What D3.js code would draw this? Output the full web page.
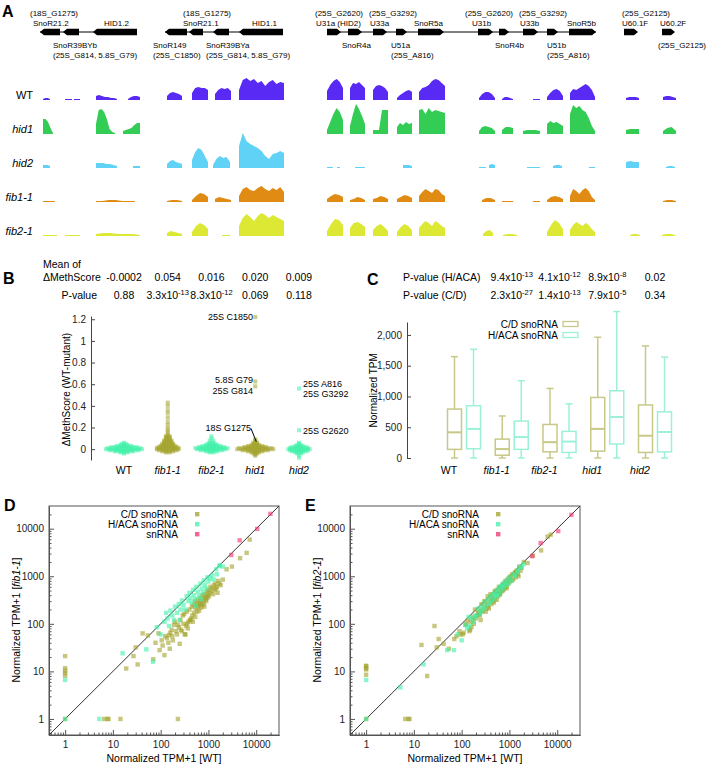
<!DOCTYPE html>
<html>
<head>
<meta charset="utf-8">
<script src="https://cdn.jsdelivr.net/npm/d3@7"></script>
<style>
  body { margin: 0; background: #fff; }
  text { font-family: "Liberation Sans", Arial, sans-serif; }
</style>
</head>
<body>
<svg id="fig" width="710" height="766"></svg>
<script>
var svg = d3.select("#fig");

// ---------------- panel A data (locus units along the region) ----------------
var genes = [
  {name: "SnoR21.2",  start: 0,   end: 20,  strand: "-"},
  {name: "SnoR39BYb", start: 23,  end: 39,  strand: "-"},
  {name: "HID1.2",    start: 53,  end: 97,  strand: "-"},
  {name: "SnoR149",   start: 125, end: 147, strand: "-"},
  {name: "SnoR21.1",  start: 149, end: 163, strand: "-"},
  {name: "SnoR39BYa", start: 173, end: 189, strand: "-"},
  {name: "HID1.1",    start: 199, end: 243, strand: "-"},
  {name: "U31a",      start: 287, end: 301, strand: "+"},
  {name: "SnoR4a",    start: 308, end: 322, strand: "+"},
  {name: "U33a",      start: 333, end: 347, strand: "+"},
  {name: "U51a",      start: 356, end: 367, strand: "+"},
  {name: "SnoR5a",    start: 378, end: 404, strand: "+"},
  {name: "U31b",      start: 438, end: 453, strand: "+"},
  {name: "SnoR4b",    start: 459, end: 469, strand: "+"},
  {name: "U33b",      start: 483, end: 498, strand: "+"},
  {name: "U51b",      start: 507, end: 518, strand: "+"},
  {name: "SnoR5b",    start: 529, end: 556, strand: "+"},
  {name: "U60.1F",    start: 584, end: 598, strand: "+"},
  {name: "U60.2F",    start: 622, end: 635, strand: "+"}
];
var clusters = [[0, 97], [125, 243], [287, 556]];

var covSamples = ["WT", "hid1", "hid2", "fib1-1", "fib2-1"];
var covColors = ["#5a2af5", "#33cc55", "#5fd2f5", "#e08c14", "#dde835"];

// [start, end, coverage profile]
var covWT = [
  [3,10,[1,2,2,1]], [25,32,[1,1,1]], [34,40,[1,1,1]], [56,77,[4,5,4,3,3,2,2,1]],
  [88,100,[1,3,4,4,3]], [127,142,[4,7,8,7,6,4]], [152,168,[7,12,13,12,12,10]],
  [175,191,[6,10,12,11,12,9]], [199,244,[10,20,22,19,21,17,19,14,18,20,16,18,17]],
  [287,303,[9,15,19,21,18,12]], [310,325,[12,17,16,18,15,12]], [333,348,[10,14,15,14,12,8]],
  [357,372,[2,5,7,9,10,8]], [379,405,[8,12,13,15,19,21,20,17,14]], [439,455,[2,6,8,8,6,2]],
  [462,473,[1,3,3,2,1]], [493,500,[1,1,1]], [507,523,[3,7,10,11,9,4]],
  [530,555,[7,11,10,12,14,16,14,10,3]], [586,599,[2,3,3,3,2]], [623,636,[3,4,4,3,2]]
];
var covHid1 = [
  [3,13,[15,15,12,6,1]], [56,75,[10,24,25,22,15,5,2,1]], [83,100,[3,4,5,6,9,11,11]],
  [287,303,[4,12,20,26,22,14]], [310,325,[8,20,30,25,18,10]], [333,348,[4,4,4,24,24,24]],
  [357,372,[7,11,9,12,10,11]], [379,405,[24,25,20,26,22,24,23,22,21]], [439,455,[3,7,8,7,6,3]],
  [462,473,[4,7,7,6]], [483,500,[3,4,4,4,3]], [507,523,[10,13,11,12,10,8]],
  [530,555,[20,29,26,28,24,22,16,8,3]], [586,599,[4,5,5,5]], [623,636,[3,6,7,3]]
];
var covHid2 = [
  [3,10,[3,3,3,2]], [56,77,[5,5,5,4,4,3,2]], [93,100,[2,2,2]], [127,142,[4,7,8,6,5,4]],
  [152,168,[8,16,20,18,12,6]], [173,190,[3,9,12,10,11,6]],
  [199,244,[22,35,27,24,22,20,17,12,9,14,15,17,15]], [287,293,[1,1,1]], [297,300,[1,1]],
  [315,325,[1,1,1]], [363,372,[3,3,3,2]], [439,446,[1,1,1]], [449,455,[3,4,3]],
  [487,500,[1,1,1,1]], [513,522,[2,3,3,2]], [549,555,[1,1,1]], [586,599,[6,7,6,6]],
  [626,635,[1,2,2,1]]
];
var covFib1 = [
  [3,15,[1,1,1,1]], [56,95,[1,1,2,2,1,1,1]], [127,142,[1,2,2,1]], [152,168,[2,6,9,8,5]],
  [175,191,[3,5,4,3,2]], [199,244,[6,13,15,12,11,14,16,13,11,14,12,15,10]],
  [287,303,[3,6,8,7,5]], [310,325,[2,3,5,4,2]], [333,348,[3,4,6,5,3]], [357,372,[3,5,7,6,4]],
  [379,405,[6,10,13,11,9,13,12,8,6]], [442,455,[2,4,4,2]], [462,473,[1,1,1]],
  [493,500,[1,1]], [507,523,[2,5,6,5,3]], [530,555,[6,13,11,8,12,14,11,5,2]],
  [623,636,[1,2,2,1]]
];
var covFib2 = [
  [3,17,[1,1,1,1]], [25,40,[1,1,1]], [56,100,[2,3,3,2,2,2,1]], [127,142,[3,5,4,3,2]],
  [152,168,[4,10,13,11,7]], [182,190,[1,1,1]], [199,244,[10,18,22,19,15,20,23,21,18,21,19,17,15]],
  [287,303,[5,12,17,16,11]], [310,325,[8,13,14,12,9]], [333,348,[6,10,12,9,5]],
  [357,372,[4,9,12,10,6]], [379,405,[8,12,15,13,10,15,13,10,8]], [443,453,[2,5,6,3]],
  [463,477,[1,2,2,1]], [507,523,[4,11,16,13,7]], [530,555,[6,11,14,12,10,13,11,7,4]],
  [590,600,[1,2,2,1]], [622,635,[1,2,2,1]]
];
var covData = [covWT, covHid1, covHid2, covFib1, covFib2];

// ---------------- panel B data ----------------
var methSamples = ["WT", "fib1-1", "fib2-1", "hid1", "hid2"];
var methMean = ["-0.0002", "0.054", "0.016", "0.020", "0.009"];
var methP = [["0.88"], ["3.3x10", "-13"], ["8.3x10", "-12"], ["0.069"], ["0.118"]];
var wtLevels = [-0.04,-0.03,-0.02,-0.01,0,0.01,0.02,0.03,0.04,0.05,0.06];
var wtCounts = [1,3,6,9,11,10,8,5,3,2,1];
var fib1Levels = [-0.03,-0.02,-0.01,0,0.01,0.02,0.03,0.04,0.05,0.06,0.07,0.08,0.09,0.10,0.11,0.12,0.13,0.15,0.17,0.19,0.22,0.25,0.29,0.33,0.36,0.40,0.43];
var fib1Counts = [2,4,6,7,7,6,5,4,4,3,3,3,2,2,2,2,1,1,1,1,1,1,1,1,1,1,1];
var fib2Levels = [-0.03,-0.02,-0.01,0,0.01,0.02,0.03,0.04,0.05,0.06,0.08,0.10,0.12];
var fib2Counts = [2,4,7,9,10,8,6,4,3,2,2,1,1];
var hid1Levels = [-0.06,-0.05,-0.04,-0.03,-0.02,-0.01,0,0.01,0.02,0.03,0.04,0.05,0.06,0.07,0.08,0.09,0.58,0.625,1.22];
var hid1Counts = [1,1,2,3,5,8,11,10,7,5,3,2,2,1,1,1,1,1,1];
var hid2Levels = [-0.08,-0.06,-0.04,-0.03,-0.02,-0.01,0,0.01,0.02,0.03,0.04,0.05,0.06,0.175,0.56];
var hid2Counts = [1,1,2,3,5,6,7,6,5,3,2,1,1,1,1];
var methLevels = [wtLevels, fib1Levels, fib2Levels, hid1Levels, hid2Levels];
var methCounts = [wtCounts, fib1Counts, fib2Counts, hid1Counts, hid2Counts];

// ---------------- panel C data (min, q1, median, q3, max) ----------------
var tpmSamples = ["WT", "fib1-1", "fib2-1", "hid1", "hid2"];
var cdBox   = [[0,140,417,795,1647], [0,45,145,307,683], [0,100,257,545,1130], [0,112,473,984,1962], [0,90,362,862,1821]];
var hacaBox = [[0,150,473,850,1766], [0,140,340,600,1255], [0,90,267,433,880], [0,228,667,1092,2380], [0,100,423,750,1640]];
var pHACA = [null, ["9.4x10","-13"], ["4.1x10","-12"], ["8.9x10","-8"], ["0.02"]];
var pCD   = [null, ["2.3x10","-27"], ["1.4x10","-13"], ["7.9x10","-5"], ["0.34"]];

// ---------------- panels D/E data (normalized TPM+1) ----------------
var cdWT   = [1,1,1,1,1,1,6.6,7.7,8.1,14.4,230,19,27,33,30,42,54,70,78,105,120,250,160,210,90,135,150,170,180,190,200,220,240,260,280,290,300,320,340,350,370,380,400,420,440,450,470,490,500,520,540,560,580,600,620,650,680,700,720,750,780,800,830,860,900,930,960,1000,1050,1100,1150,1200,1300,1350,1400,1500,1600,1550,1700,2000,2400,3100,4600,6300,7300,110,125,145,155,175,230,265,310,360,410,460,530,590,640,670,740,820,880,950,1020,1250,1450,1800,330,95];
var cdFib1 = [21,11.7,10.3,9.2,8.1,1,1,1,1,1,1,11.5,21,14,32,63,57,18,40,45,22,38,65,70,63,50,58,75,45,95,110,60,85,120,70,150,100,60,90,180,80,110,200,120,130,230,110,250,170,300,210,260,180,320,240,280,350,220,300,400,330,270,420,360,300,480,400,520,440,600,480,560,650,520,700,600,800,450,700,850,1400,1600,2400,3100,5900,35,55,40,30,55,95,75,160,100,120,150,140,230,190,260,250,230,330,350,380,420,550,650,60,28];
var cdFib2 = [13,11,8.5,11.5,13,1,1,1,1,36,160,8,90,48,32,38,30,48,55,60,95,120,85,150,70,120,75,140,100,200,130,170,150,260,190,230,300,180,250,380,210,300,420,260,350,400,280,480,330,500,320,450,380,600,420,550,480,640,500,700,560,650,800,560,820,700,900,750,1000,800,1100,850,1200,950,1300,1100,1600,1000,1300,2000,1900,2700,3500,6800,7500,65,100,70,110,120,200,180,290,230,330,300,420,470,420,580,520,700,600,800,900,1100,1200,1500,210,60];
var hacaWT   = [1,1,5.2,16,50,69,83,100,120,130,140,150,160,175,190,200,220,240,260,280,300,320,350,380,400,420,450,480,500,530,560,600,640,680,720,760,800,850,900,950,1000,1100,1200,1300,1450,1500,1700,2000,1740,250,550,700];
var hacaFib1 = [6.6,1,1,24,29,16,85,60,110,170,130,90,190,150,120,230,170,260,200,310,250,200,380,300,450,350,280,520,400,330,600,470,380,700,550,450,820,650,550,950,780,900,1050,850,1400,1100,1650,1600,1700,120,240,330];
var hacaFib2 = [6.6,1,4.6,14,28,28,60,45,95,80,140,90,130,110,150,140,210,160,230,200,280,230,320,260,380,300,420,330,470,380,520,430,600,500,680,560,760,640,850,700,950,800,1100,1000,1300,1200,1500,1800,1600,180,400,620];
var snWT   = [3000, 4500, 10500, 19800];
var snFib1 = [2800, 5700, 9900, 20500];
var snFib2 = [2650, 5000, 8900, 19500];

// ================= panel A =================
var xLocus = d3.scaleLinear().domain([0, 640]).range([40, 680]);
var yCov = d3.scaleLinear().domain([0, 40]).range([0, 40]);
var geneY = 32;

svg.append("text").attr("x", 2).attr("y", 17).attr("font-size", 16).attr("font-weight", "bold").text("A");

var gA = svg.append("g");
gA.selectAll("line.cl").data(clusters).enter().append("line")
  .attr("x1", function(d) { return xLocus(d[0]); })
  .attr("x2", function(d) { return xLocus(d[1]); })
  .attr("y1", geneY).attr("y2", geneY)
  .attr("stroke", "#000").attr("stroke-width", 1);

gA.selectAll("path.gene").data(genes).enter().append("path")
  .attr("d", function(d) {
    var a = xLocus(d.start), b = xLocus(d.end), h = 3.3, tip = 4;
    if (d.strand == "+") {
      return "M" + a + "," + (geneY - h) + "L" + (b - tip) + "," + (geneY - h) + "L" + b + "," + geneY +
             "L" + (b - tip) + "," + (geneY + h) + "L" + a + "," + (geneY + h) + "Z";
    }
    return "M" + b + "," + (geneY - h) + "L" + (a + tip) + "," + (geneY - h) + "L" + a + "," + geneY +
           "L" + (a + tip) + "," + (geneY + h) + "L" + b + "," + (geneY + h) + "Z";
  })
  .attr("fill", "#000");

// gene / target labels
var geneLabels = [
  ["(18S_G1275)", 30, 16], ["SnoR21.2", 33, 26], ["HID1.2", 104, 26],
  ["SnoR39BYb", 53, 48], ["(25S_G814, 5.8S_G79)", 53, 58],
  ["(18S_G1275)", 183, 16], ["SnoR21.1", 183, 26], ["HID1.1", 252, 26],
  ["SnoR149", 153, 48], ["(25S_C1850)", 153, 58], ["SnoR39BYa", 206, 48], ["(25S_G814, 5.8S_G79)", 206, 58],
  ["(25S_G2620)", 315, 16], ["(25S_G3292)", 369, 16], ["U31a (HID2)", 316, 26], ["U33a", 370, 26], ["SnoR5a", 414, 26],
  ["SnoR4a", 342, 48], ["U51a", 391, 48], ["(25S_A816)", 391, 58],
  ["(25S_G2620)", 465, 16], ["(25S_G3292)", 519, 16], ["U31b", 472, 26], ["U33b", 520, 26], ["SnoR5b", 567, 26],
  ["SnoR4b", 495, 48], ["U51b", 547, 48], ["(25S_A816)", 547, 58],
  ["(25S_G2125)", 622, 16], ["U60.1F", 622, 26], ["U60.2F", 660, 26], ["(25S_G2125)", 658, 48]
];
gA.selectAll("text.gl").data(geneLabels).enter().append("text")
  .attr("x", function(d) { return d[1]; })
  .attr("y", function(d) { return d[2]; })
  .attr("font-size", 8)
  .text(function(d) { return d[0]; });

// coverage tracks
var trackBase = [100, 134, 168, 202, 236];
covSamples.forEach(function(s, i) {
  var base = trackBase[i];
  svg.append("text")
    .attr("x", 33).attr("y", base - 1)
    .attr("text-anchor", "end").attr("font-size", 11)
    .attr("font-style", s == "WT" ? "normal" : "italic")
    .text(s);
  var area = d3.area()
    .x(function(p) { return xLocus(p[0]); })
    .y0(base)
    .y1(function(p) { return base - yCov(p[1]); });
  svg.append("g").selectAll("path").data(covData[i]).enter().append("path")
    .attr("d", function(seg) {
      var n = seg[2].length;
      var pos = d3.scaleLinear().domain([0, n - 1]).range([seg[0], seg[1]]);
      return area(seg[2].map(function(v, k) { return [pos(k), v]; }));
    })
    .attr("fill", covColors[i]);
});

// ================= panel B =================
var olive = "#a2a22a", mint = "#3ef0a8";
var methColors = [mint, olive, mint, olive, mint];
var xB = d3.scalePoint().domain(methSamples).range([124, 299]);
var yB = d3.scaleLinear().domain([-0.1, 1.23]).range([460, 316]);

svg.append("text").attr("x", 3).attr("y", 284).attr("font-size", 16).attr("font-weight", "bold").text("B");
svg.append("text").attr("x", 43).attr("y", 268).attr("font-size", 10.5).text("Mean of");
svg.append("text").attr("x", 43).attr("y", 281).attr("font-size", 10.5).text("\u0394MethScore");
svg.append("text").attr("x", 97).attr("y", 299).attr("font-size", 10.5).attr("text-anchor", "end").text("P-value");

function supText(sel, parts) {
  sel.append("tspan").text(parts[0]);
  if (parts.length > 1) {
    sel.append("tspan").attr("dy", -4).attr("font-size", 7.5).text(parts[1]);
  }
}
methSamples.forEach(function(s, i) {
  svg.append("text").attr("x", xB(s)).attr("y", 281).attr("font-size", 10.5)
    .attr("text-anchor", "middle").text(methMean[i]);
  supText(svg.append("text").attr("x", xB(s)).attr("y", 299).attr("font-size", 10.5)
    .attr("text-anchor", "middle"), methP[i]);
});

var axB = svg.append("g").attr("transform", "translate(91,0)")
  .call(d3.axisLeft(yB).tickValues([0, 0.2, 0.4, 0.6, 0.8, 1, 1.2]).tickSize(-4).tickSizeOuter(0)
    .tickPadding(5).tickFormat(d3.format("~g")));
axB.selectAll("text").attr("font-size", 10).attr("font-family", "Liberation Sans, Arial, sans-serif").attr("fill", "#222");
axB.selectAll("path,line").attr("stroke", "#444");

svg.append("text")
  .attr("transform", "translate(70," + yB(0.55) + ") rotate(-90)")
  .attr("text-anchor", "middle").attr("font-size", 10).text("\u0394MethScore (WT-mutant)");

var spacing = 3.6;
methSamples.forEach(function(s, i) {
  var pts = [];
  methLevels[i].forEach(function(v, j) {
    var n = methCounts[i][j];
    for (var k = 0; k < n; k++) pts.push({v: v, off: (k - (n - 1) / 2) * spacing});
  });
  svg.append("g").selectAll("rect").data(pts).enter().append("rect")
    .attr("x", function(d) { return xB(s) + d.off - 2; })
    .attr("y", function(d) { return yB(d.v) - 2; })
    .attr("width", 4).attr("height", 4)
    .attr("fill", methColors[i]).attr("fill-opacity", 0.55);
  svg.append("text").attr("x", xB(s)).attr("y", 474).attr("font-size", 10.5)
    .attr("text-anchor", "middle").attr("font-style", s == "WT" ? "normal" : "italic").text(s);
});

var methNotes = [
  ["25S C1850", 253, yB(1.22), "end"], ["5.8S G79", 253, yB(0.625) - 1.5, "end"], ["25S G814", 253, yB(0.58) + 4, "end"],
  ["25S A816", 303, yB(0.56) - 4.5, "start"], ["25S G3292", 303, yB(0.56) + 5, "start"],
  ["25S G2620", 303, yB(0.175), "start"], ["18S G1275", 251, yB(0.2), "end"]
];
svg.selectAll("text.mn").data(methNotes).enter().append("text")
  .attr("x", function(d) { return d[1]; })
  .attr("y", function(d) { return d[2] + 3.3; })
  .attr("text-anchor", function(d) { return d[3]; })
  .attr("font-size", 9).text(function(d) { return d[0]; });
svg.append("line").attr("x1", 251).attr("y1", yB(0.2) + 1).attr("x2", xB("hid1") + 1).attr("y2", yB(0.07))
  .attr("stroke", "#000").attr("stroke-width", 1);

// ================= panel C =================
var cdCol = "#c8c888", hacaCol = "#9cf0d8";
var xC = d3.scalePoint().domain(tpmSamples).range([464, 655]);
var yC = d3.scaleLinear().domain([0, 2210]).range([458, 322]);
var boxW = 14, boxOff = 9.5;

svg.append("text").attr("x", 367).attr("y", 285).attr("font-size", 16).attr("font-weight", "bold").text("C");
svg.append("text").attr("x", 403).attr("y", 281).attr("font-size", 10.5).text("P-value (H/ACA)");
svg.append("text").attr("x", 403).attr("y", 299).attr("font-size", 10.5).text("P-value (C/D)");
tpmSamples.forEach(function(s, i) {
  if (pHACA[i]) supText(svg.append("text").attr("x", xC(s)).attr("y", 281).attr("font-size", 10.5).attr("text-anchor", "middle"), pHACA[i]);
  if (pCD[i]) supText(svg.append("text").attr("x", xC(s)).attr("y", 299).attr("font-size", 10.5).attr("text-anchor", "middle"), pCD[i]);
});

var axC = svg.append("g").attr("transform", "translate(407,0)")
  .call(d3.axisLeft(yC).tickValues([0, 500, 1000, 1500, 2000]).tickSize(-4).tickSizeOuter(0).tickPadding(5));
axC.selectAll("text").attr("font-size", 10).attr("font-family", "Liberation Sans, Arial, sans-serif").attr("fill", "#222");
axC.selectAll("path,line").attr("stroke", "#444");
svg.append("text")
  .attr("transform", "translate(377," + yC(1100) + ") rotate(-90)")
  .attr("text-anchor", "middle").attr("font-size", 10).text("Normalized TPM");

function drawBox(cx, st, col) {
  var g = svg.append("g").attr("stroke", col).attr("stroke-width", 1.5).attr("fill", "none");
  g.append("line").attr("x1", cx).attr("x2", cx).attr("y1", yC(st[0])).attr("y2", yC(st[1]));
  g.append("line").attr("x1", cx).attr("x2", cx).attr("y1", yC(st[3])).attr("y2", yC(st[4]));
  g.append("line").attr("x1", cx - 3.5).attr("x2", cx + 3.5).attr("y1", yC(st[0])).attr("y2", yC(st[0]));
  g.append("line").attr("x1", cx - 3.5).attr("x2", cx + 3.5).attr("y1", yC(st[4])).attr("y2", yC(st[4]));
  g.append("rect").attr("x", cx - boxW / 2).attr("width", boxW)
    .attr("y", yC(st[3])).attr("height", yC(st[1]) - yC(st[3]));
  g.append("line").attr("x1", cx - boxW / 2).attr("x2", cx + boxW / 2).attr("y1", yC(st[2])).attr("y2", yC(st[2])).attr("stroke-width", 2);
}
tpmSamples.forEach(function(s, i) {
  drawBox(xC(s) - boxOff, cdBox[i], cdCol);
  drawBox(xC(s) + boxOff, hacaBox[i], hacaCol);
  svg.append("text").attr("x", xC(s) - 15).attr("y", 474).attr("font-size", 10.5)
    .attr("text-anchor", "middle").attr("font-style", s == "WT" ? "normal" : "italic").text(s);
});
svg.append("text").attr("x", 558).attr("y", 327.5).attr("font-size", 10).attr("text-anchor", "end").text("C/D snoRNA");
svg.append("text").attr("x", 558).attr("y", 338.5).attr("font-size", 10).attr("text-anchor", "end").text("H/ACA snoRNA");
svg.append("rect").attr("x", 563).attr("y", 321.5).attr("width", 15).attr("height", 5).attr("fill", "none").attr("stroke", cdCol).attr("stroke-width", 1.3);
svg.append("rect").attr("x", 563).attr("y", 332.5).attr("width", 15).attr("height", 5).attr("fill", "none").attr("stroke", hacaCol).attr("stroke-width", 1.3);

// ================= panels D and E =================
var snCol = "#f0306a";
function drawScatter(left, letter, mutName, cdMut, hacaMut, snMut) {
  var x = d3.scaleLog().domain([0.46, 30000]).range([left, left + 230]);
  var y = d3.scaleLog().domain([0.46, 30000]).range([735, 506]);
  var g = svg.append("g");
  var majors = [1, 10, 100, 1000, 10000];
  var minors = [];
  [0.1, 1, 10, 100, 1000, 10000].forEach(function(dec) {
    for (var m = 2; m <= 9; m++) { var v = dec * m; if (v > 0.46 && v < 30000) minors.push(v); }
  });
  var fmt = d3.format("d");
  g.append("g").attr("transform", "translate(0,735)")
    .call(d3.axisBottom(x).tickValues(majors).tickFormat(fmt).tickSize(-5).tickSizeOuter(0).tickPadding(6));
  g.append("g").attr("transform", "translate(0,735)")
    .call(d3.axisBottom(x).tickValues(minors).tickFormat("").tickSize(-2.5).tickSizeOuter(0));
  g.append("g").attr("transform", "translate(" + left + ",0)")
    .call(d3.axisLeft(y).tickValues(majors).tickFormat(fmt).tickSize(-5).tickSizeOuter(0).tickPadding(5));
  g.append("g").attr("transform", "translate(" + left + ",0)")
    .call(d3.axisLeft(y).tickValues(minors).tickFormat("").tickSize(-2.5).tickSizeOuter(0));
  g.selectAll("text").attr("font-size", 10).attr("font-family", "Liberation Sans, Arial, sans-serif").attr("fill", "#222");
  g.selectAll("path,line").attr("stroke", "#555");
  g.append("rect").attr("x", left).attr("y", 506).attr("width", 230).attr("height", 229)
    .attr("fill", "none").attr("stroke", "#555").attr("stroke-width", 1);
  g.append("line").attr("x1", x(0.46)).attr("y1", y(0.46)).attr("x2", x(30000)).attr("y2", y(30000))
    .attr("stroke", "#333").attr("stroke-width", 1);

  function pts(xs, ys, col) {
    g.append("g").selectAll("rect").data(xs).enter().append("rect")
      .attr("x", function(d) { return x(d) - 2.2; })
      .attr("y", function(d, i) { return y(ys[i]) - 2.2; })
      .attr("width", 4.4).attr("height", 4.4)
      .attr("fill", col).attr("fill-opacity", 0.6);
  }
  pts(cdWT, cdMut, olive);
  pts(hacaWT, hacaMut, mint);
  pts(snWT, snMut, snCol);

  var legend = [["C/D snoRNA", olive], ["H/ACA snoRNA", mint], ["snRNA", snCol]];
  legend.forEach(function(l, i) {
    g.append("text").attr("x", left + 129).attr("y", 517.5 + i * 10).attr("text-anchor", "end")
      .attr("font-size", 10).text(l[0]);
    g.append("rect").attr("x", left + 146).attr("y", 512 + i * 10).attr("width", 4.4).attr("height", 4.4)
      .attr("fill", l[1]).attr("fill-opacity", 0.75);
  });

  g.append("text").attr("x", left + 115).attr("y", 762).attr("text-anchor", "middle").attr("font-size", 10.5)
    .text("Normalized TPM+1 [WT]");
  var yt = g.append("text").attr("transform", "translate(" + (left - 29) + ",620) rotate(-90)")
    .attr("text-anchor", "middle").attr("font-size", 10.5);
  yt.append("tspan").text("Normalized TPM+1 [");
  yt.append("tspan").attr("font-style", "italic").text(mutName);
  yt.append("tspan").text("]");
  svg.append("text").attr("x", left - 45).attr("y", 511).attr("font-size", 16).attr("font-weight", "bold").text(letter);
}
drawScatter(49, "D", "fib1-1", cdFib1, hacaFib1, snFib1);
drawScatter(350, "E", "fib2-1", cdFib2, hacaFib2, snFib2);
</script>
</body>
</html>
